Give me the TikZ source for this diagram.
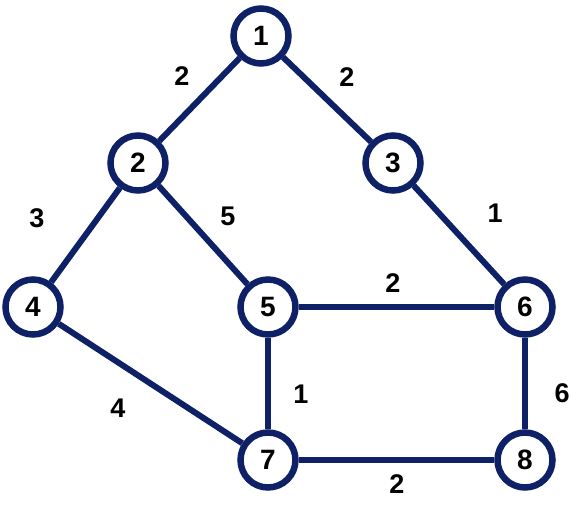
\documentclass[tikz,border=0pt]{standalone}
\usepackage{fontspec}
\setmainfont{Liberation Sans}
\definecolor{navy}{RGB}{14,33,102}
\begin{document}
\begin{tikzpicture}[x=1pt,y=-1pt,
  vert/.style={circle,draw=navy,line width=6.5pt,fill=white,minimum size=55pt,inner sep=0pt,font=\fontsize{28}{28}\selectfont\bfseries},
  edge/.style={draw=navy,line width=6pt},
  wlabel/.style={font=\fontsize{27}{27}\selectfont\bfseries,inner sep=0pt}]
\useasboundingbox (0,0) rectangle (588,518);
\node[vert] (n1) at (261,36) {1};
\node[vert] (n2) at (138,163) {2};
\node[vert] (n3) at (393,163) {3};
\node[vert] (n4) at (33,307) {4};
\node[vert] (n5) at (268,307) {5};
\node[vert] (n6) at (525,307) {6};
\node[vert] (n7) at (268,460) {7};
\node[vert] (n8) at (525,460) {8};
\draw[edge] (n1) -- (n2);
\draw[edge] (n1) -- (n3);
\draw[edge] (n2) -- (n4);
\draw[edge] (n2) -- (n5);
\draw[edge] (n3) -- (n6);
\draw[edge] (n5) -- (n6);
\draw[edge] (n4) -- (n7);
\draw[edge] (n5) -- (n7);
\draw[edge] (n6) -- (n8);
\draw[edge] (n7) -- (n8);
\node[wlabel] (w12) at (182,76) {2};
\node[wlabel] (w13) at (347,77) {2};
\node[wlabel] (w24) at (37,218) {3};
\node[wlabel] (w25) at (228,216) {5};
\node[wlabel] (w36) at (495,213) {1};
\node[wlabel] (w56) at (393,283) {2};
\node[wlabel] (w57) at (301,394) {1};
\node[wlabel] (w47) at (118,408) {4};
\node[wlabel] (w68) at (562,393) {6};
\node[wlabel] (w78) at (397,484) {2};
\end{tikzpicture}
\end{document}
